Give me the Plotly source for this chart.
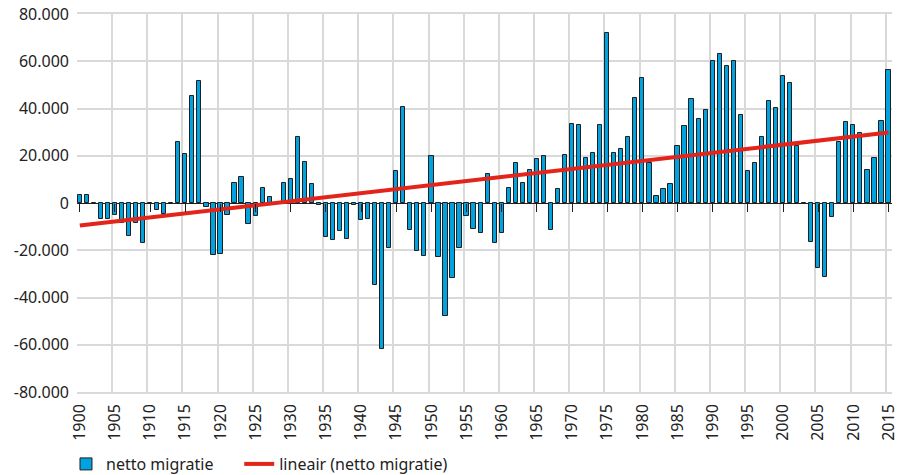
import plotly.graph_objects as go

years = list(range(1900, 2016))
netto_migratie = [
    3300, 3300, -500, -6600, -6900, -5200, -8600, -14100, -8600, -16900,   # 1900-1909
    -500, -3100, -4500, -300, 26000, 20900, 45400, 51500, -1800, -21900,   # 1910-1919
    -21700, -5200, 8600, 11000, -9000, -5600, 6200, 2400, 0, 8300,        # 1920-1929
    10000, 28000, 17200, 8200, -1000, -14300, -15800, -11700, -15400, -1000,  # 1930-1939
    -7100, -6600, -34600, -62000, -19200, 13400, 40500, -11600, -20500, -22300,  # 1940-1949
    19800, -22700, -47900, -31900, -19200, -5400, -11200, -12600, 12100, -17100,  # 1950-1959
    -12800, 6400, 16800, 8500, 13800, 18500, 19800, -11600, 5800, 20200,   # 1960-1969
    33300, 32900, 19200, 21000, 32900, 72000, 21300, 22700, 28100, 44600,  # 1970-1979
    53100, 16800, 3100, 5800, 8000, 24000, 32800, 43900, 35400, 39200,     # 1980-1989
    60000, 63000, 57900, 59900, 37100, 13700, 17100, 28000, 43200, 40400,  # 1990-1999
    53800, 51000, 24300, -300, -16400, -27400, -31300, -5900, 25700, 34300,  # 2000-2009
    32900, 29800, 13800, 19200, 34900, 56300,                               # 2010-2015
]
trend_years = [1900, 2015]
trend_values = [-9500, 29800]

y_tickvals = [80000, 60000, 40000, 20000, 0, -20000, -40000, -60000, -80000]
y_ticktext = ["80.000", "60.000", "40.000", "20.000", "0",
              "-20.000", "-40.000", "-60.000", "-80.000"]
x_label_years = list(range(1900, 2016, 5))
x_ticktext = [str(y) for y in x_label_years]

OFFSET = 0.4
XRANGE = [1900, 2015.9]

font_family = "Noto Sans, Open Sans, sans-serif"
TXT = "#222222"

fig = go.Figure()
fig.add_trace(go.Bar(
    x=[y + OFFSET for y in years], y=netto_migratie,
    width=0.6,
    marker=dict(color="#00A3E0", line=dict(color="#1f1f1f", width=1)),
    name="netto migratie" + "\u00a0" * 5,
))
fig.add_trace(go.Scatter(
    x=[y + OFFSET for y in trend_years], y=trend_values,
    mode="lines", line=dict(color="#E3241B", width=4),
    name="lineair (netto migratie)",
))
# invisible helpers for overlay axes
fig.add_trace(go.Scatter(x=[XRANGE[0]], y=[0], xaxis="x2", mode="markers",
                         marker=dict(opacity=0), showlegend=False, hoverinfo="skip"))
fig.add_trace(go.Scatter(x=[XRANGE[0]], y=[0], xaxis="x3", mode="markers",
                         marker=dict(opacity=0), showlegend=False, hoverinfo="skip"))

fig.update_layout(
    width=899, height=475,
    margin=dict(l=77, r=7, t=14, b=83, autoexpand=False),
    paper_bgcolor="white", plot_bgcolor="white",
    font=dict(family=font_family, size=16, color=TXT),
    bargap=0,
    showlegend=True,
    legend=dict(orientation="h", x=-0.0135, xanchor="left", y=-0.1905, yanchor="middle",
                font=dict(size=16, color=TXT), itemwidth=30,
                traceorder="normal", bgcolor="rgba(0,0,0,0)"),
    xaxis=dict(range=XRANGE, tickvals=x_label_years, showticklabels=False,
               showgrid=True, gridcolor="#D9D9D9", gridwidth=1.5,
               showline=True, linecolor="#D9D9D9", linewidth=1.5, mirror=True,
               zeroline=False, ticks=""),
    xaxis2=dict(range=XRANGE, overlaying="x", anchor="y", side="bottom",
                tickvals=[y + OFFSET for y in x_label_years], ticktext=x_ticktext,
                tickangle=-90, showgrid=False, zeroline=False, ticks="",
                ticklabelstandoff=8,
                showline=False, tickfont=dict(size=16, color=TXT)),
    xaxis3=dict(range=XRANGE, overlaying="x", anchor="free", position=0.5,
                tickvals=[y + OFFSET for y in x_label_years], showticklabels=False,
                ticks="outside", ticklen=8, tickcolor="#1f1f1f", tickwidth=1,
                showgrid=False, zeroline=False, showline=False),
    yaxis=dict(range=[-80000, 80000], tickvals=y_tickvals, ticktext=y_ticktext,
               showgrid=True, gridcolor="#D9D9D9", gridwidth=1.5,
               zeroline=True, zerolinecolor="#1f1f1f", zerolinewidth=1,
               showline=False, ticks="", ticklabelstandoff=7,
               tickfont=dict(size=16, color=TXT)),
)

fig.write_html("out.html", config={"displayModeBar": False},
               post_script="document.body.style.margin='0';document.body.style.overflow='hidden';")
